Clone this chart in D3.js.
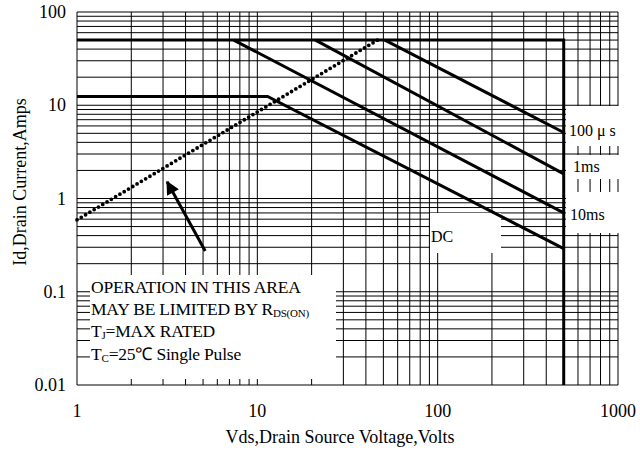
<!DOCTYPE html>
<html lang="en">
<head>
<meta charset="UTF-8">
<title>Safe Operating Area</title>
<script src="https://d3js.org/d3.v7.min.js"></script>
<style>
  body { margin: 0; background: #fff; }
  svg { display: block; }
  text { font-family: "Liberation Serif", "Times New Roman", serif; fill: #000; }
  .grid line { stroke: #000; stroke-width: 1; }
  .curve { fill: none; stroke: #000; stroke-width: 3; }
</style>
</head>
<body>
<svg id="chart"></svg>
<script>
// axis ticks
var xTicks = [1, 10, 100, 1000];
var yTicks = [0.01, 0.1, 1, 10, 100];
var xTickLabels = ["1", "10", "100", "1000"];
var yTickLabels = ["0.01", "0.1", "1", "10", "100"];

// limits (Vds, Id)
var boundary = [[1, 50], [500, 50], [500, 0.01]];
var dcCurve = [[1, 12.4], [11.4, 12.4], [500, 0.29]];
var ms10Curve = [[7.4, 50], [500, 0.70]];
var ms1Curve = [[21, 50], [500, 1.84]];
var us100Curve = [[51, 50], [500, 5.1]];
var rdsCurve = [[1, 0.59], [46.4, 50]];
var arrowPts = [[5.14, 0.274], [3.16, 1.51]];

var width = 640, height = 456;
var svg = d3.select("#chart").attr("width", width).attr("height", height);

var x = d3.scaleLog().domain([1, 1000]).range([77, 618]);
var y = d3.scaleLog().domain([0.01, 100]).range([385, 12]);

// grid lines 1..9 per decade
var xGrid = [], yGrid = [];
[1, 10, 100].forEach(function(d) { for (var k = 1; k < 10; k++) xGrid.push(d * k); });
xGrid.push(1000);
[0.01, 0.1, 1, 10].forEach(function(d) { for (var k = 1; k < 10; k++) yGrid.push(d * k); });
yGrid.push(100);

var grid = svg.append("g").attr("class", "grid");
grid.selectAll("line.v").data(xGrid).enter().append("line")
  .attr("x1", d => x(d)).attr("x2", d => x(d))
  .attr("y1", y(100)).attr("y2", y(0.01));
grid.selectAll("line.h").data(yGrid).enter().append("line")
  .attr("x1", x(1)).attr("x2", x(1000))
  .attr("y1", d => y(d)).attr("y2", d => y(d));

// white areas behind the labels
var boxes = [
  [90, 275, 246, 104],
  [566, 106, 56, 40],
  [566, 155, 56, 24],
  [566, 192, 56, 41],
  [430, 213, 71, 40]
];
svg.selectAll("rect.box").data(boxes).enter().append("rect")
  .attr("x", d => d[0]).attr("y", d => d[1])
  .attr("width", d => d[2]).attr("height", d => d[3])
  .attr("fill", "#fff");

var line = d3.line().x(d => x(d[0])).y(d => y(d[1]));

[boundary, dcCurve, ms10Curve, ms1Curve, us100Curve].forEach(function(c) {
  svg.append("path").attr("class", "curve").attr("d", line(c));
});

// Rds(on) limit, dotted
svg.append("path").attr("d", line(rdsCurve))
  .attr("fill", "none").attr("stroke", "#000")
  .attr("stroke-width", 3.8).attr("stroke-linecap", "round")
  .attr("stroke-dasharray", "0,5");

// arrow
var defs = svg.append("defs");
defs.append("marker").attr("id", "head")
  .attr("viewBox", "0 0 10 10").attr("refX", 9).attr("refY", 5)
  .attr("markerWidth", 5.5).attr("markerHeight", 4.5)
  .attr("markerUnits", "strokeWidth").attr("orient", "auto")
  .append("path").attr("d", "M0,0 L10,5 L0,10 z").attr("fill", "#000");
svg.append("line")
  .attr("x1", x(arrowPts[0][0])).attr("y1", y(arrowPts[0][1]))
  .attr("x2", x(arrowPts[1][0])).attr("y2", y(arrowPts[1][1]))
  .attr("stroke", "#000").attr("stroke-width", 3)
  .attr("marker-end", "url(#head)");

// tick labels
svg.selectAll("text.xt").data(xTicks).enter().append("text")
  .attr("x", d => x(d)).attr("y", 417)
  .attr("text-anchor", "middle").attr("font-size", 18)
  .text((d, i) => xTickLabels[i]);
svg.selectAll("text.yt").data(yTicks).enter().append("text")
  .attr("x", 66).attr("y", d => y(d) + 6)
  .attr("text-anchor", "end").attr("font-size", 18)
  .text((d, i) => yTickLabels[i]);

svg.append("text").attr("x", 340).attr("y", 443)
  .attr("text-anchor", "middle").attr("font-size", 18)
  .text("Vds,Drain Source Voltage,Volts");
svg.append("text").attr("transform", "translate(26,182) rotate(-90)")
  .attr("text-anchor", "middle").attr("font-size", 18)
  .text("Id,Drain Current,Amps");

// note text
var note = svg.append("g").attr("font-size", 17.5).attr("letter-spacing", -0.2);
note.append("text").attr("x", 91).attr("y", 293).text("OPERATION IN THIS AREA");
var t2 = note.append("text").attr("x", 91).attr("y", 315);
t2.append("tspan").text("MAY BE LIMITED BY R");
t2.append("tspan").attr("font-size", 11).attr("dy", 2).text("DS(ON)");
var t3 = note.append("text").attr("x", 91).attr("y", 337);
t3.append("tspan").text("T");
t3.append("tspan").attr("font-size", 11).attr("dy", 2).text("J");
t3.append("tspan").attr("dy", -2).text("=MAX RATED");
var t4 = note.append("text").attr("x", 91).attr("y", 360);
t4.append("tspan").text("T");
t4.append("tspan").attr("font-size", 11).attr("dy", 2).text("C");
t4.append("tspan").attr("dy", -2).text("=25\u2103  Single Pulse");

// curve labels
var curveLabels = [["100 \u03bc s", 569, 136], ["1ms", 573, 172], ["10ms", 570, 220], ["DC", 431, 242]];
svg.selectAll("text.cl").data(curveLabels).enter().append("text")
  .attr("x", d => d[1]).attr("y", d => d[2])
  .attr("font-size", 16)
  .text(d => d[0]);
</script>
</body>
</html>
